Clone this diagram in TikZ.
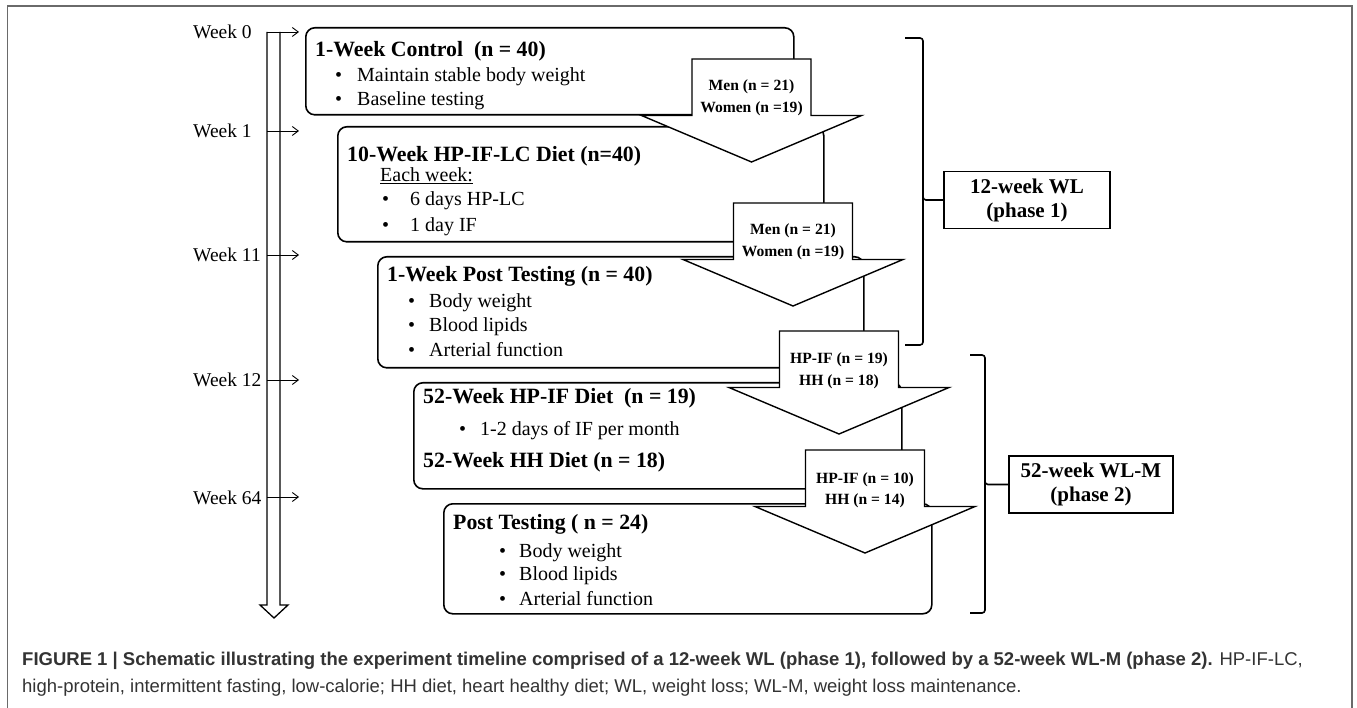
\documentclass[tikz,border=0pt]{standalone}
\usepackage{fontspec}
\setmainfont{Liberation Serif}
\newfontfamily\capfont{Liberation Sans}
\usepackage{xcolor}
\usetikzlibrary{arrows.meta,positioning}

\definecolor{framegray}{HTML}{6A6A6A}
\definecolor{capgray}{HTML}{333333}

\tikzset{
  stage/.style={draw, line width=1.6pt, rounded corners=9pt, fill=white, anchor=north west, inner sep=0pt},
  bigarrow/.style={draw, line width=1.4pt, fill=white, line join=miter},
  ttl/.style={anchor=base west, inner sep=0pt, font=\fontsize{21.8}{24}\selectfont\bfseries},
  itm/.style={anchor=base west, inner sep=0pt, font=\fontsize{20}{24}\selectfont},
  wk/.style={anchor=base west, inner sep=0pt, font=\fontsize{19.5}{22}\selectfont},
  cnt/.style={anchor=base, inner sep=0pt, font=\fontsize{15.6}{17}\selectfont\bfseries},
  phase/.style={draw, line width=1.5pt, minimum height=57pt, align=center, inner sep=0pt, font=\fontsize{21}{24}\selectfont\bfseries},
  brace/.style={line width=1.6pt, rounded corners=3pt},
  tick/.style={line width=0.9pt, -{Straight Barb[length=6pt,width=9pt]}},
  captext/.style={anchor=base west, inner sep=0pt, text=capgray, font=\capfont\fontsize{18.5}{20}\selectfont}
}

% bullet line: offset of text, then text
\newcommand{\bul}[2]{\makebox[#1][l]{\textbullet}#2}
% block arrow pointing down, centre x and top y
\newcommand{\bigarrow}[3]{%
  \draw[bigarrow] ({#1-59.5},#2) -- ({#1+59.5},#2) -- ({#1+59.5},#2+56.5) -- ({#1+110},#2+56.5)
    -- (#1,#2+103) -- ({#1-110},#2+56.5) -- ({#1-59.5},#2+56.5) -- cycle;
  \coordinate (#3) at (#1,#2);}

\begin{document}
\begin{tikzpicture}[x=1pt,y=-1pt]
\useasboundingbox (0,0) rectangle (1357,708);
\draw[framegray, line width=1.2pt] (7.5,708) -- (7.5,6) -- (1352,6) -- (1352,708);

% timeline
\draw[line width=1.3pt, line join=miter] (267,32) -- (267,605) -- (260,605) -- (274,618) -- (288,605) -- (280,605) -- (280,32);
\foreach \y/\w [count=\i] in {32/0,131/1,255/11,380/12,497/64}{
  \coordinate (t\i) at (267,\y);
  \coordinate (h\i) at (299,\y);
  \draw[tick] (t\i) -- (h\i);
  \node[wk] (week\i) at (193,\y+7) {Week \w};
}

% stages
\node[stage, minimum width=488pt, minimum height=87pt] (control) at (305,27) {};
\node[stage, minimum width=486pt, minimum height=115pt] (diet) at (337,126) {};
\node[stage, minimum width=486pt, minimum height=111pt] (post) at (377,256) {};
\node[stage, minimum width=488pt, minimum height=106pt] (maint) at (413,382) {};
\node[stage, minimum width=488pt, minimum height=110pt] (final) at (443,503) {};

\node[ttl] (controlT) at (315,57) {1-Week Control\ \ (n = 40)};
\node[itm] (control1) at (335,82) {\bul{22pt}{Maintain stable body weight}};
\node[itm] (control2) at (335,106) {\bul{22pt}{Baseline testing}};

\node[ttl] (dietT) at (347,162) {10-Week HP-IF-LC Diet (n=40)};
\node[itm] (diet0) at (380,182) {\underline{Each week:}};
\node[itm] (diet1) at (382,206) {\bul{28pt}{6 days HP-LC}};
\node[itm] (diet2) at (382,232) {\bul{28pt}{1 day IF}};

\node[ttl] (postT) at (387,282) {1-Week Post Testing (n = 40)};
\node[itm] (post1) at (408,308) {\bul{21pt}{Body weight}};
\node[itm] (post2) at (408,332) {\bul{21pt}{Blood lipids}};
\node[itm] (post3) at (408,356) {\bul{21pt}{Arterial function}};

\node[ttl] (maintT) at (423,403) {52-Week HP-IF Diet\ \ (n = 19)};
\node[itm] (maint1) at (459,435) {\bul{21pt}{1-2 days of IF per month}};
\node[ttl] (maintH) at (423,467) {52-Week HH Diet (n = 18)};

\node[ttl] (finalT) at (453,529) {Post Testing ( n = 24)};
\node[itm] (final1) at (499,557) {\bul{20pt}{Body weight}};
\node[itm] (final2) at (499,580) {\bul{20pt}{Blood lipids}};
\node[itm] (final3) at (499,605) {\bul{20pt}{Arterial function}};

% group arrows
\bigarrow{751.5}{59}{a1}
\bigarrow{793}{203}{a2}
\bigarrow{839}{331}{a3}
\bigarrow{865}{450}{a4}
\node[cnt] (a1m) at (751.5,91) {Men (n = 21)};
\node[cnt] (a1w) at (751.5,113) {Women (n =19)};
\node[cnt] (a2m) at (793,235) {Men (n = 21)};
\node[cnt] (a2w) at (793,257) {Women (n =19)};
\node[cnt] (a3f) at (839,363) {HP-IF (n = 19)};
\node[cnt] (a3h) at (839,385) {HH (n = 18)};
\node[cnt] (a4f) at (865,483) {HP-IF (n = 10)};
\node[cnt] (a4h) at (865,504) {HH (n = 14)};

% phases
\node[phase, minimum width=166pt] (wl) at (1027,200) {12-week WL\\(phase 1)};
\node[phase, minimum width=164pt] (wlm) at (1091,484.5) {52-week WL-M\\(phase 2)};
\draw[brace] (905,38) -- (923,38) -- (923,200) -- (wl.west);
\draw[brace] (923,196) -- (923,345) -- (905,345);
\draw[brace] (970,355) -- (985,355) -- (985,484.5) -- (wlm.west);
\draw[brace] (985,480) -- (985,613) -- (970,613);

% caption
\node[captext] (cap1) at (22,665) {\textbf{FIGURE 1 | Schematic illustrating the experiment timeline comprised of a 12-week WL (phase 1), followed by a 52-week WL-M (phase 2).} HP-IF-LC,};
\node[captext] (cap2) at (22,692) {high-protein, intermittent fasting, low-calorie; HH diet, heart healthy diet; WL, weight loss; WL-M, weight loss maintenance.};
\end{tikzpicture}
\end{document}
